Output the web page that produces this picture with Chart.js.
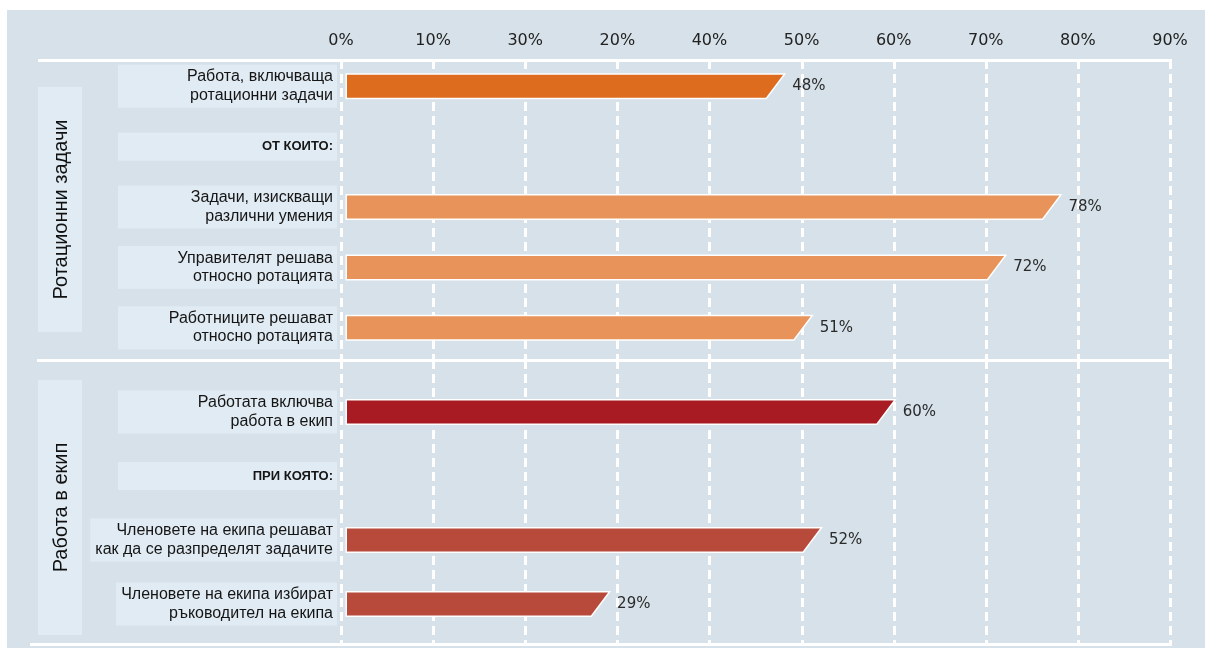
<!DOCTYPE html>
<html><head><meta charset="utf-8">
<script src="https://cdn.jsdelivr.net/npm/chart.js@4.4.1/dist/chart.umd.min.js"></script>
<style>
html,body{margin:0;padding:0;background:#fff;}
#wrap{position:relative;width:1205px;height:648px;overflow:hidden;background:#fff;}
#bg{position:absolute;left:7px;top:10px;width:1198px;height:638px;background:#d6e1e9;}
canvas{position:absolute;left:0;}
#c1{top:0;}
#c2{top:360px;}
</style></head><body>
<div id="wrap"><div id="bg"></div>
<canvas id="c1" width="1205" height="362"></canvas>
<canvas id="c2" width="1205" height="288"></canvas>
</div>
<script>
// ---- data ----
const tickLabels = ['0%','10%','30%','20%','40%','50%','60%','70%','80%','90%'];
const rotationGroup = 'Ротационни задачи';
const rotationCategories = [
  ['Работа, включваща','ротационни задачи'],
  'ОТ КОИТО:',
  ['Задачи, изискващи','различни умения'],
  ['Управителят решава','относно ротацията'],
  ['Работниците решават','относно ротацията']
];
const rotationValues = [48, null, 78, 72, 51];
const teamGroup = 'Работа в екип';
const teamCategories = [
  ['Работата включва','работа в екип'],
  'ПРИ КОЯТО:',
  ['Членовете на екипа решават','как да се разпределят задачите'],
  ['Членовете на екипа избират','ръководител на екипа']
];
const teamValues = [60, null, 52, 29];

// ---- styles ----
const rotationColors = ['#dd6c1f', '#e8935a', '#e8935a', '#e8935a', '#e8935a'];
const teamColors = ['#a81b23', '#b84a3b', '#b84a3b', '#b84a3b'];
const LABEL_FONT = '"Liberation Sans", Arial, sans-serif';
const NUM_FONT = '"DejaVu Sans", sans-serif';
const BOX_COLOR = '#e1ebf3';

// slanted-end bar element
const BaseBar = Chart.BarElement || Chart.registry.getElement('bar');
const BaseCtrl = Chart.BarController || Chart.registry.getController('bar');
class SlantBar extends BaseBar {
  draw(ctx) {
    const p = this.getProps(['x','y','base','height']);
    const h = p.height / 2, s = p.height * 0.75, b = p.base + 6;
    ctx.save();
    ctx.beginPath();
    ctx.moveTo(b, p.y - h);
    ctx.lineTo(p.x, p.y - h);
    ctx.lineTo(p.x - s, p.y + h);
    ctx.lineTo(b, p.y + h);
    ctx.closePath();
    ctx.lineWidth = 3;
    ctx.strokeStyle = '#ffffff';
    ctx.stroke();
    ctx.fillStyle = this.options.backgroundColor;
    ctx.fill();
    ctx.restore();
  }
}
SlantBar.id = 'slantBar';
SlantBar.defaults = Object.assign({}, BaseBar.defaults);
class SlantBarController extends BaseCtrl {}
SlantBarController.id = 'slantBar';
SlantBarController.defaults = Object.assign({}, BaseCtrl.defaults, {dataElementType: 'slantBar'});
SlantBarController.overrides = BaseCtrl.overrides;
Chart.register(SlantBar, SlantBarController);

const decor = {
  id: 'decor',
  beforeDraw(chart, args, o) {
    const ctx = chart.ctx, ys = chart.scales.y, xs = chart.scales.x, ca = chart.chartArea;
    ctx.save();
    // group box
    ctx.fillStyle = BOX_COLOR;
    ctx.fillRect(38, o.groupTop, 44, o.groupBottom - o.groupTop);
    ctx.save();
    ctx.translate(61, (o.groupTop + o.groupBottom) / 2);
    ctx.rotate(-Math.PI / 2);
    ctx.fillStyle = '#111';
    ctx.font = '20px ' + LABEL_FONT;
    ctx.textAlign = 'center';
    ctx.textBaseline = 'middle';
    ctx.fillText(o.groupLabel, 0, 0);
    ctx.restore();
    // row label boxes
    ys.ticks.forEach((t, i) => {
      const yc = ys.getPixelForTick(i);
      const lab = t.label;
      const multi = Array.isArray(lab);
      ctx.font = multi ? '16px ' + LABEL_FONT : 'bold 13px ' + LABEL_FONT;
      const lines = multi ? lab : [lab];
      const w = Math.max(...lines.map(l => ctx.measureText(l).width));
      const right = 337;
      const left = Math.min(118, ca.left - 8 - w - 5);
      const hgt = multi ? 43 : 28;
      ctx.fillStyle = BOX_COLOR;
      ctx.fillRect(left, yc - hgt / 2, right - left, hgt);
    });
    // dashed grid
    ctx.strokeStyle = '#ffffff';
    ctx.lineWidth = 3;
    ctx.setLineDash([9, 5]);
    xs.ticks.forEach(t => {
      const x = Math.round(xs.getPixelForValue(t.value)) + 0.5;
      ctx.beginPath();
      ctx.moveTo(x, o.gridTop);
      ctx.lineTo(x, o.gridBottom);
      ctx.stroke();
    });
    ctx.setLineDash([]);
    // horizontal solid lines
    o.hLines.forEach(l => {
      ctx.beginPath();
      ctx.moveTo(l.x0, l.y);
      ctx.lineTo(Math.round(xs.getPixelForValue(xs.max)) + 2, l.y);
      ctx.stroke();
    });
    ctx.restore();
  },
  afterDatasetsDraw(chart) {
    const ctx = chart.ctx;
    const meta = chart.getDatasetMeta(0);
    const data = chart.data.datasets[0].data;
    ctx.save();
    ctx.font = '15px ' + NUM_FONT;
    ctx.fillStyle = '#2a2a2a';
    ctx.textBaseline = 'middle';
    ctx.textAlign = 'left';
    meta.data.forEach((el, i) => {
      if (data[i] == null) return;
      ctx.fillText(data[i] + '%', el.x + 9, el.y);
    });
    ctx.restore();
  }
};
Chart.register(decor);

function yTickFont(c) {
  const lab = c.tick && c.tick.label;
  if (typeof lab === 'string') return {family: LABEL_FONT, size: 13, weight: 'bold', lineHeight: 1.15};
  return {family: LABEL_FONT, size: 16, lineHeight: 1.15};
}

function makeChart(id, cats, vals, colors, showX, layoutPad, xHeight, decorOpts) {
  return new Chart(document.getElementById(id), {
    type: 'slantBar',
    data: {
      labels: cats,
      datasets: [{ data: vals, backgroundColor: colors, barThickness: 23 }]
    },
    options: {
      indexAxis: 'y',
      responsive: false,
      animation: false,
      devicePixelRatio: 1,
      layout: { padding: layoutPad },
      plugins: { legend: { display: false }, tooltip: { enabled: false }, decor: decorOpts },
      scales: {
        x: {
          position: 'top',
          display: showX,
          min: 0, max: 90,
          grid: { display: false, drawTicks: false },
          border: { display: false },
          afterFit: s => { s.height = xHeight; s.paddingLeft = 0; s.paddingRight = 0; },
          ticks: {
            stepSize: 10,
            padding: 6,
            color: '#222',
            font: { family: NUM_FONT, size: 16 },
            callback: (v, i) => tickLabels[i]
          }
        },
        y: {
          grid: { display: false, drawTicks: false },
          border: { display: false },
          afterFit: s => { s.width = 341; s.paddingTop = 0; s.paddingBottom = 0; },
          ticks: {
            autoSkip: false,
            padding: 8,
            color: '#151515',
            font: yTickFont
          }
        }
      }
    }
  });
}

makeChart('c1', rotationCategories, rotationValues, rotationColors, true,
  { left: 0, right: 35, top: 0, bottom: 4 }, 56,
  { groupLabel: rotationGroup, groupTop: 87, groupBottom: 332, gridTop: 60, gridBottom: 362,
    hLines: [{ y: 60.5, x0: 38 }, { y: 360.5, x0: 37 }] });

makeChart('c2', teamCategories, teamValues, teamColors, false,
  { left: 0, right: 35, top: 20, bottom: 12 }, 0,
  { groupLabel: teamGroup, groupTop: 20, groupBottom: 275, gridTop: 0, gridBottom: 284,
    hLines: [{ y: 284.5, x0: 30 }] });
</script>
</body></html>
